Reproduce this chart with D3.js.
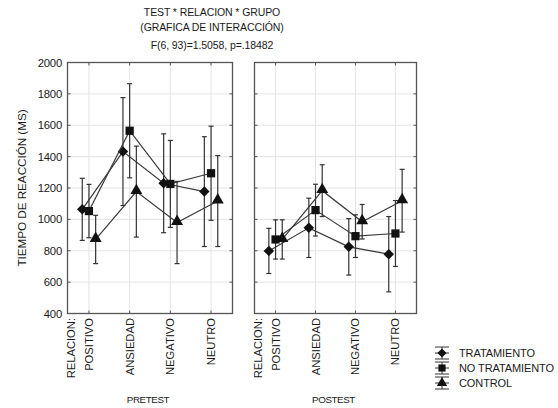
<!DOCTYPE html>
<html><head><meta charset="utf-8">
<script src="https://cdn.jsdelivr.net/npm/d3@7"></script>
<style>body{margin:0;background:#fff}svg{display:block}text{font-family:"Liberation Sans",Arial,sans-serif;fill:#1a1a1a}</style>
</head><body>
<script>
const categories = ["POSITIVO","ANSIEDAD","NEGATIVO","NEUTRO"];
const tests = ["PRETEST","POSTEST"];
const groups = ["TRATAMIENTO","NO TRATAMIENTO","CONTROL"];
const yTicks = [400,600,800,1000,1200,1400,1600,1800,2000];
// means and confidence half-widths per group, by category
const preMeans = {
  "TRATAMIENTO":   [1064, 1432, 1230, 1177],
  "NO TRATAMIENTO":[1053, 1565, 1226, 1294],
  "CONTROL":       [872, 1177, 980, 1117]
};
const preCI = {
  "TRATAMIENTO":   [198, 344, 315, 350],
  "NO TRATAMIENTO":[170, 300, 277, 300],
  "CONTROL":       [154, 290, 262, 290]
};
const postMeans = {
  "TRATAMIENTO":   [799, 946, 825, 778],
  "NO TRATAMIENTO":[872, 1059, 893, 910],
  "CONTROL":       [872, 1183, 985, 1119]
};
const postCI = {
  "TRATAMIENTO":   [144, 189, 180, 240],
  "NO TRATAMIENTO":[125, 165, 136, 210],
  "CONTROL":       [125, 165, 110, 200]
};
const titleLines = ["TEST * RELACION * GRUPO","(GRAFICA DE INTERACCIÓN)","F(6, 93)=1.5058, p=.18482"];

const W=558,H=408;
const svg=d3.select("body").append("svg").attr("width",W).attr("height",H);
const yTop=62.5,yBot=313.5;
const panels=[{x0:67.5,x1:232.5,means:preMeans,ci:preCI,label:tests[0]},{x0:254.5,x1:416.5,means:postMeans,ci:postCI,label:tests[1]}];
const y=d3.scaleLinear().domain([400,2000]).range([yBot,yTop]);
const symbols={"TRATAMIENTO":d3.symbolDiamond2,"NO TRATAMIENTO":d3.symbolSquare,"CONTROL":d3.symbolTriangle};
const symSize={"TRATAMIENTO":70,"NO TRATAMIENTO":68,"CONTROL":62};
const offset=d3.scalePoint().domain(groups).range([-6.7,6.7]);

titleLines.forEach((t,i)=>svg.append("text").attr("x",212).attr("y",[16,31,49][i]).attr("text-anchor","middle").attr("font-size",10.5).attr("letter-spacing",-0.1).text(t));

svg.selectAll(".yl").data(yTicks).enter().append("text").attr("x",62).attr("y",d=>y(d)+4).attr("text-anchor","end").attr("font-size",11.3).attr("letter-spacing",-0.2).text(d=>d);
svg.append("text").attr("transform","translate(26,188) rotate(-90)").attr("text-anchor","middle").attr("font-size",11.8).attr("letter-spacing",-0.1).text("TIEMPO DE REACCIÓN (MS)");

panels.forEach(p=>{
  const g=svg.append("g");
  const x=d3.scalePoint().domain(categories).range([p.x0+(p.x1-p.x0)*0.13,p.x0+(p.x1-p.x0)*0.87]);
  g.selectAll(".gy").data(yTicks.slice(1,-1)).enter().append("line").attr("x1",p.x0).attr("x2",p.x1).attr("y1",d=>y(d)).attr("y2",d=>y(d)).attr("stroke","#e4e4e4").attr("stroke-width",1);
  g.selectAll(".gx").data(categories).enter().append("line").attr("x1",d=>x(d)).attr("x2",d=>x(d)).attr("y1",yTop).attr("y2",yBot).attr("stroke","#e4e4e4").attr("stroke-width",1);
  g.append("rect").attr("x",p.x0).attr("y",yTop).attr("width",p.x1-p.x0).attr("height",yBot-yTop).attr("fill","none").attr("stroke","#555").attr("stroke-width",1.3);
  yTicks.slice(1,-1).forEach(v=>{
    g.append("line").attr("x1",p.x0).attr("x2",p.x0+3).attr("y1",y(v)).attr("y2",y(v)).attr("stroke","#555");
    g.append("line").attr("x1",p.x1-3).attr("x2",p.x1).attr("y1",y(v)).attr("y2",y(v)).attr("stroke","#555");
  });
  categories.forEach(c=>{
    g.append("line").attr("x1",x(c)).attr("x2",x(c)).attr("y1",yTop).attr("y2",yTop+3).attr("stroke","#555");
    g.append("line").attr("x1",x(c)).attr("x2",x(c)).attr("y1",yBot-3).attr("y2",yBot).attr("stroke","#555");
  });
  g.append("text").attr("transform",`translate(${p.x0+7},318) rotate(-90)`).attr("text-anchor","end").attr("font-size",11.2).text("RELACION:");
  categories.forEach(c=>g.append("text").attr("transform",`translate(${x(c)+4},318) rotate(-90)`).attr("text-anchor","end").attr("font-size",11.2).text(c));
  g.append("text").attr("x",(p.x0+p.x1)/2-2).attr("y",403).attr("text-anchor","middle").attr("font-size",9.8).attr("letter-spacing",-0.4).text(p.label);
  groups.forEach(gr=>{
    const pts=categories.map((c,i)=>({x:x(c)+offset(gr),m:p.means[gr][i],ci:p.ci[gr][i]}));
    g.append("path").attr("d",d3.line().x(d=>d.x).y(d=>y(d.m))(pts)).attr("fill","none").attr("stroke","#3a3a3a").attr("stroke-width",1.2);
    pts.forEach(d=>{
      g.append("line").attr("x1",d.x).attr("x2",d.x).attr("y1",y(d.m-d.ci)).attr("y2",y(d.m+d.ci)).attr("stroke","#333").attr("stroke-width",1.2);
      [d.m-d.ci,d.m+d.ci].forEach(v=>g.append("line").attr("x1",d.x-2.5).attr("x2",d.x+2.5).attr("y1",y(v)).attr("y2",y(v)).attr("stroke","#333").attr("stroke-width",1.2));
      g.append("path").attr("d",d3.symbol().type(symbols[gr]).size(symSize[gr])()).attr("transform",`translate(${d.x},${y(d.m)+(gr==="CONTROL"?-1:0)})`).attr("fill","#111");
    });
  });
});

groups.forEach((gr,i)=>{
  const cy=353+i*15, cx=442;
  const lg=svg.append("g");
  lg.append("line").attr("x1",cx).attr("x2",cx).attr("y1",cy-6).attr("y2",cy+6).attr("stroke","#333");
  [cy-6,cy+6].forEach(v=>lg.append("line").attr("x1",cx-7).attr("x2",cx+7).attr("y1",v).attr("y2",v).attr("stroke","#333"));
  lg.append("line").attr("x1",cx-7).attr("x2",cx+7).attr("y1",cy).attr("y2",cy).attr("stroke","#333");
  lg.append("path").attr("d",d3.symbol().type(symbols[gr]).size(symSize[gr]*0.75)()).attr("transform",`translate(${cx},${cy})`).attr("fill","#111");
  lg.append("text").attr("x",459).attr("y",cy+4).attr("font-size",11).attr("letter-spacing",-0.1).text(gr);
});
</script>
</body></html>
